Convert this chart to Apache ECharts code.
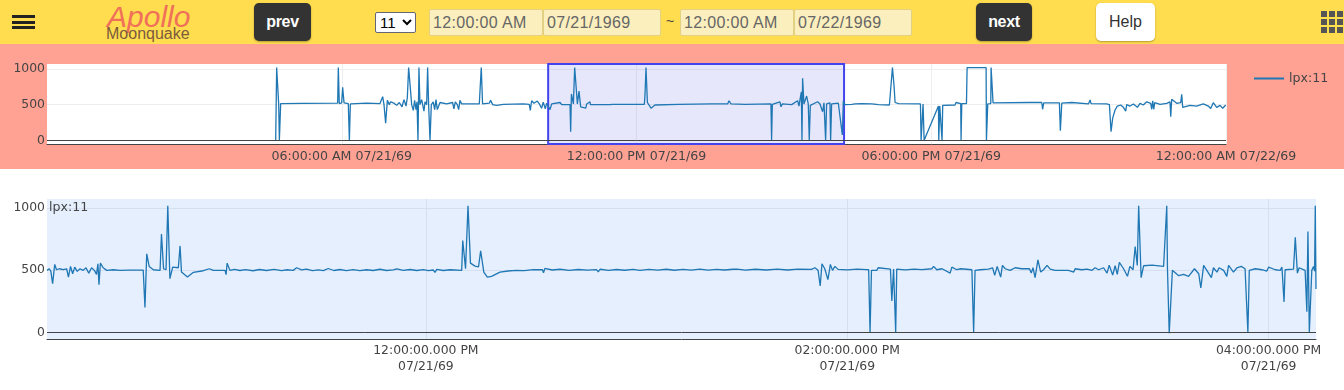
<!DOCTYPE html>
<html>
<head>
<meta charset="utf-8">
<title>Apollo Moonquake</title>
<script src="https://cdn.jsdelivr.net/npm/echarts@6/dist/echarts.min.js"></script>
<style>
    html, body { margin: 0; padding: 0; width: 1344px; height: 390px; overflow: hidden; background: #fff; font-family: "Liberation Sans", Arial, sans-serif; }
    .abs { position: absolute; box-sizing: border-box; }
    #topbar { left: 0; top: 0; width: 1344px; height: 44px; background: #ffdd4f; }
    #pinkband { left: 0; top: 44px; width: 1344px; height: 125px; background: #ffa294; }
    .bar { left: 12px; width: 23px; height: 3px; background: #222; }
    .btn { top: 3px; height: 38px; line-height: 38px; text-align: center; font-size: 16px; border-radius: 5px; box-shadow: 0 1px 2px rgba(0,0,0,.3); }
    .btn.dark { background: #333; color: #fff; font-weight: bold; letter-spacing: -.3px; }
    .btn.light { background: #fff; color: #333; }
    .field { top: 9px; height: 27px; line-height: 25px; padding-left: 3px; background: #fbefbd; border: 1px solid #e2d083; border-radius: 2px; color: #666; font-size: 16px; letter-spacing: .35px; white-space: nowrap; }
    .cell { width: 6px; height: 6px; background: #555; }
    #overview { left: 0; top: 44px; width: 1344px; height: 125px; }
    #detail { left: 0; top: 169px; width: 1344px; height: 221px; }
</style>
</head>
<body>
<div class="abs" id="topbar"></div>
<div class="abs" id="pinkband"></div>
<div class="abs bar" style="top:15px"></div>
<div class="abs bar" style="top:21px"></div>
<div class="abs bar" style="top:26px"></div>
<div class="abs" style="left:107px;top:0;font-size:30px;font-style:italic;color:#f0705a;line-height:34px">Apollo</div>
<div class="abs" style="left:106px;top:25px;font-size:16px;color:#7c5a3c;line-height:18px">Moonquake</div>
<div class="abs btn dark" style="left:254px;width:57px">prev</div>
<select class="abs" style="left:375px;top:12px;width:41px;height:21px;font-size:15px;font-family:'Liberation Sans';background:#fff;border:1px solid #667;border-radius:2px;padding:0"><option>11</option></select>
<div class="abs field" style="left:429px;width:114px">12:00:00 AM</div>
<div class="abs field" style="left:543px;width:118px">07/21/1969</div>
<div class="abs" style="left:666px;top:13px;font-size:14px;color:#444">~</div>
<div class="abs field" style="left:680px;width:114px">12:00:00 AM</div>
<div class="abs field" style="left:794px;width:118px">07/22/1969</div>
<div class="abs btn dark" style="left:976px;width:56px">next</div>
<div class="abs btn light" style="left:1096px;width:59px">Help</div>
<div class="abs cell" style="left:1321px;top:11px"></div><div class="abs cell" style="left:1329px;top:11px"></div><div class="abs cell" style="left:1337px;top:11px"></div>
<div class="abs cell" style="left:1321px;top:19px"></div><div class="abs cell" style="left:1329px;top:19px"></div><div class="abs cell" style="left:1337px;top:19px"></div>
<div class="abs cell" style="left:1321px;top:27px"></div><div class="abs cell" style="left:1329px;top:27px"></div><div class="abs cell" style="left:1337px;top:27px"></div>
<div class="abs" id="overview"></div>
<div class="abs" id="detail"></div>

<script>
    var seriesName = 'lpx:11';
    var valueTicks = [0, 500, 1000];
    // x values are minutes after 00:00 on 07/21/69
    var overviewTicks = [360, 720, 1080, 1440];
    var detailTicks = [720, 840, 960];
    var selectedRange = [612.1, 973.5];

    // whole day trace, [minute, value]
    var overviewTrace = [
        [279.3,0],[280.5,1020],[281.8,1020],[283.0,500],[283.8,0],[285.4,515],[313,517],[355,520],[355.8,1020],[357,515],[359.9,525],[361.1,742],[362.8,525],[368,515],[369.3,0],[370.5,510],
        [390.4,520],[406.7,515],[408.7,490],[410,611],[411.6,500],[413.6,240],[415.7,560],[418.1,500],[419.7,540],[423.8,520],[427,490],[430.3,530],[433.6,470],[436,570],[438.5,480],[440.1,600],[441.7,1020],[443.7,1020],[445.4,500],[447.4,420],[449,560],[450.7,430],[451.9,540],[453.1,0],[454.3,1020],[455.5,500],[457.6,570],[460.4,410],[461.7,540],[463.7,500],[464.9,1020],[466.1,500],[467.8,0],[469.4,500],[471.8,540],[473.5,430],[475.1,570],[476.7,430],[480,530],
        [488.1,510],[495.4,530],[497,440],[498.7,540],[501.1,500],[502.8,430],[504.4,560],[506.4,510],[516.6,510],[528,510],[530.4,1020],[532,510],[540.2,520],[541.8,560],[544.3,500],[549.2,490],[557.3,505],[581.7,510],[589,505],[590.3,420],[591.9,555],[594.8,520],[598.8,550],[601.3,510],[604.1,450],[606.1,535],[608.6,440],[610.2,520],
        [612.2,500],[614.4,430],[616.4,510],[626.6,530],[628.7,500],[638.8,500],[639.6,120],[640.5,650],[642.9,510],[644.5,1020],[646.6,1020],[647.8,510],[649.8,690],[651.8,470],[658,450],[659.2,510],[663.2,540],[663.7,500],[687.7,500],[688.9,480],[690.5,505],[729.6,505],[730.4,640],[731.6,1020],[733.3,530],[737.7,450],[742.6,495],[771,505],[811.8,510],[831.3,510],[833,555],[835.4,510],[852.5,505],[884.2,510],[885,0],[885.9,505],
        [895.2,540],[896.5,470],[898.1,510],[909.5,500],[916.8,555],[918.4,480],[921.3,680],[922.1,0],[922.9,870],[924.5,510],[927.8,620],[929.8,510],[931,0],[932.3,490],[941.2,540],[944.1,510],[947.3,400],[949,525],[951,0],[952.2,510],[956.3,525],[957.1,0],[958.3,510],[966.5,520],[971.4,75],[972.6,555],[974.6,500],
        [983,505],[984,490],[987,510],[995,515],[1007.4,510],[1015.5,500],[1028.9,495],[1030.2,470],[1031,510],[1032.6,1020],[1033.8,1020],[1034.6,760],[1035.8,530],[1040,515],[1066.8,510],[1067.6,0],[1068.8,0],[1070,510],[1071.3,0],[1073.7,0],[1088.8,480],[1089.2,0],[1090.4,480],[1091.6,490],[1093.2,0],[1094,490],[1109,495],[1110.3,530],[1116,515],[1116.4,0],[1117.3,515],[1123,515],[1123.8,1020],[1147,1020],[1147.4,0],[1149,510],[1152.7,515],[1153.1,1020],[1154.3,1020],[1155.5,525],
        [1200.7,530],[1215,530],[1216,435],[1217.4,525],[1236.5,525],[1237.7,135],[1239.4,520],[1251.6,530],[1272,510],[1274,565],[1275.2,515],[1294.3,510],[1297.6,500],[1298.4,520],[1299.6,120],[1301.6,310],[1304.5,425],[1307.3,480],[1311.4,495],[1314.7,462],[1317.5,410],[1318.7,500],[1322.8,480],[1326.9,510],[1331.8,462],[1335,518],[1339,495],[1343.2,540],[1348,518],[1349.3,435],[1350.5,555],[1351.7,435],[1353,528],[1359.4,505],[1367.6,518],[1371.6,540],[1372.5,330],[1373.7,575],[1379.8,518],[1384.7,528],[1385.9,645],[1387.1,460],[1396,490],[1404,480],[1412.3,510],[1418.4,480],[1421.3,445],[1424.5,528],[1428.6,462],[1432.7,490],[1436,450],[1439.6,495]
    ];

    // selected window trace, [minute, value]
    var detailTrace = [
        [612.1,499],[612.75,512],[613.2,491],[613.7,392],[614.3,547],[614.8,504],[615.6,512],[616.7,504],[617.7,512],[618.2,445],[618.8,531],[619.4,472],[620,525],[620.7,491],[621.5,512],[622.4,499],[623.2,520],[624,477],[624.8,520],[625.6,499],[626.2,467],[626.6,552],[626.9,384],[627.3,557],[628.1,520],[629.1,499],
        [631,504],[632.9,499],[635.2,501],[639.5,501],[640,200],[640.5,632],[641.2,531],[642.4,504],[644.3,499],[644.7,792],[645.3,512],[646,504],[646.5,1019],[647.1,432],[647.9,525],[649.5,520],[650,696],[650.4,485],[652.1,445],[653.8,483],[656.6,496],[658.3,512],[659.5,499],[662.8,499],[663.1,464],[663.4,557],[664.2,499],
        [665.5,507],[667,498],[668.6,505],[670.8,496],[672.6,506],[674.6,498],[676.8,507],[678.9,497],[680.5,504],[682.2,499],[682.7,483],[683.2,520],[684.6,503],[686,509],[687.7,497],[689.4,503],[690.8,497],[692.2,514],[693.8,498],[695.5,506],[697.4,497],[699.3,505],[701.2,497],[703.1,504],[705,498],[706.9,508],[708.8,498],[710.7,503],[711.2,487],[711.7,511],[713.6,499],[715.5,506],[717.4,498],[719.3,505],[720.7,497],[722.1,502],[722.6,483],[723.1,507],[725,498],[726.9,504],[730.2,499],[730.5,739],[731.3,512],[732,1019],[732.7,557],[734,533],[735,528],[735.6,656],[736.5,485],[737.5,445],[738.7,451],[741.1,485],
        [743.4,494],[745.8,499],[748,497],[750.6,505],[753.2,504],[753.5,480],[753.9,515],[756,502],[758.2,508],[760.8,499],[763.4,506],[766,501],[768.6,505],[769.1,487],[769.6,508],[772,499],[774.3,506],[776.6,500],[779,507],[781,499],[783.5,507],[786,501],[788.5,508],[790.8,500],[793.2,507],[795.6,501],[798,509],[800.4,501],[802.8,507],[805,502],[807.5,508],[808,493],[808.6,509],[811,501],[813.8,508],[817,502],[820,509],[823,502],[826,509],[829.8,507],[830.8,520],[831.7,499],[832.3,373],[832.8,552],[833.6,512],[834.5,424],[835.2,547],[835.8,499],[836.5,531],[837.4,507],[840,503],[842.8,509],[845.5,505],[846.1,504],[846.5,0],[846.9,499],[848.4,499],[848.8,520],[849.3,504],[852.3,509],[852.7,253],[853.2,509],[853.5,509],[853.8,0],[854.1,509],[856.5,503],[859,509],[861.3,505],
        [864.1,512],[864.6,531],[865.5,504],[867,512],[869.3,477],[869.8,525],[871.2,504],[872.3,512],[875.5,504],[876,0],[876.4,499],[877.9,504],[878.4,520],[880.2,509],[881.4,520],[882,459],[882.7,531],[883.7,445],[884.2,539],[885,512],[886.4,499],[887.8,520],[889.7,512],[891.9,512],[892.4,477],[892.9,520],[893.5,440],[894.3,584],[895.1,485],[895.9,504],[896.9,539],[897.8,509],[899.2,499],[903,499],[904.5,485],[904.9,512],[906.8,504],[908.3,509],[909.7,499],[910.6,520],[911.6,504],[913,520],[914,477],[914.6,541],[915.6,461],[916.3,536],[916.9,467],[917.5,563],[918.7,512],[919.8,451],[920.5,531],[921.4,504],[922,691],[922.6,539],[923,1019],[923.3,1019],[923.7,440],[924.4,536],[926.8,541],[930.1,531],[930.6,515],[931,1019],[931.2,512],[931.7,-8],[932.1,-8],[932.6,499],[932.9,491],[934.4,456],[935.8,467],[937.2,451],[938.9,512],[940.1,472],[940.7,357],[941.5,539],[942.4,499],[943.7,440],[944.3,520],[945.3,485],[945.9,520],[947.2,499],[948.1,451],[948.6,539],[950,485],[951,520],[952.2,531],[953.3,512],[953.8,520],[954.1,0],[954.5,499],[956.2,512],[958.1,504],[959.5,493],[960,525],[961.9,504],[963.3,499],[963.8,525],[964.4,245],[964.7,504],[967.1,509],[967.6,765],[968.2,477],[968.7,520],[970.4,499],[970.9,165],[971.2,813],[971.6,0],[972.3,499],[972.8,531],[973.1,493],[973.3,1019],[973.5,349]
    ];

    function pad(n) {
        return (n < 10 ? '0' : '') + n;
    }

    // 06:00:00 AM / 07/21/69 from minutes after midnight on 07/21/69
    function clockText(minute) {
        var day = 21 + Math.floor(minute / 1440);
        var m = Math.round(minute) % 1440;
        var h = Math.floor(m / 60);
        return {
            time: pad(h % 12 === 0 ? 12 : h % 12) + ':' + pad(m % 60) + ':00',
            ampm: h < 12 ? 'AM' : 'PM',
            date: '07/' + day + '/69'
        };
    }

    function buildYAxis(min, max, gridColor) {
        return {
            type: 'value', min: min, max: max,
            axisLine: {show: false},
            axisTick: {show: false, customValues: valueTicks},
            axisLabel: {
                customValues: valueTicks, color: '#444', fontFamily: 'DejaVu Sans', fontSize: 12.4, margin: 2, padding: [5, 0, 0, 0],
                formatter: function (v) { return String(v); }
            },
            splitLine: {lineStyle: {color: gridColor}}
        };
    }

    function buildSeries(trace, extra) {
        var zeroLine = {
            silent: true, symbol: 'none', animation: false,
            label: {show: false},
            lineStyle: {color: '#444', width: 1, type: 'solid'},
            data: [{yAxis: 0}]
        };
        return Object.assign({
            name: seriesName, type: 'line', data: trace,
            symbol: 'none', showSymbol: false, sampling: false, animation: false,
            lineStyle: {color: '#1f77b4', width: 1.3},
            itemStyle: {color: '#1f77b4'},
            markLine: zeroLine
        }, extra || {});
    }

    var overview = echarts.init(document.getElementById('overview'));
    overview.setOption({
        animation: false,
        legend: {
            left: 1254, top: 28, padding: 0, icon: 'rect', itemWidth: 30, itemHeight: 2, itemGap: 5,
            textStyle: {color: '#444', fontFamily: 'DejaVu Sans', fontSize: 12.6},
            data: [seriesName]
        },
        grid: {left: 47, top: 20, width: 1179, height: 80, show: true, backgroundColor: '#fff', borderWidth: 0},
        xAxis: {
            type: 'value', min: 0, max: 1440,
            axisLine: {onZero: false, lineStyle: {color: '#444'}},
            axisTick: {show: false, customValues: overviewTicks},
            axisLabel: {
                customValues: overviewTicks, color: '#444', fontFamily: 'DejaVu Sans', fontSize: 12.6, margin: 6,
                formatter: function (v) {
                    var c = clockText(v);
                    return c.time + ' ' + c.ampm + ' ' + c.date;
                }
            },
            splitLine: {lineStyle: {color: '#eee'}}
        },
        yAxis: buildYAxis(-52, 1070, '#eee'),
        series: [buildSeries(overviewTrace, {
            markArea: {
                silent: true, animation: false,
                itemStyle: {color: 'rgba(60,60,220,0.12)', borderColor: '#4444ee', borderWidth: 2},
                data: [[{xAxis: selectedRange[0]}, {xAxis: selectedRange[1]}]]
            }
        })]
    });

    var detail = echarts.init(document.getElementById('detail'));
    detail.setOption({
        animation: false,
        title: {text: seriesName, left: 49, top: 32, padding: 0, textStyle: {color: '#444', fontFamily: 'DejaVu Sans', fontSize: 12.6, fontWeight: 'normal'}},
        grid: {left: 47, top: 30, width: 1269, height: 140, show: true, backgroundColor: '#e5effe', borderWidth: 0},
        xAxis: {
            type: 'value', min: selectedRange[0], max: selectedRange[1],
            axisLine: {onZero: false, lineStyle: {color: '#444'}},
            axisTick: {show: false, customValues: detailTicks},
            axisLabel: {
                customValues: detailTicks, color: '#444', fontFamily: 'DejaVu Sans', fontSize: 12.4, margin: 4, lineHeight: 16,
                formatter: function (v) {
                    var c = clockText(v);
                    return c.time + '.000 ' + c.ampm + '\n' + c.date;
                }
            },
            splitLine: {lineStyle: {color: '#d5dff0'}}
        },
        yAxis: buildYAxis(-54, 1074, '#d5dff0'),
        series: [buildSeries(detailTrace)]
    });
</script>
</body>
</html>
